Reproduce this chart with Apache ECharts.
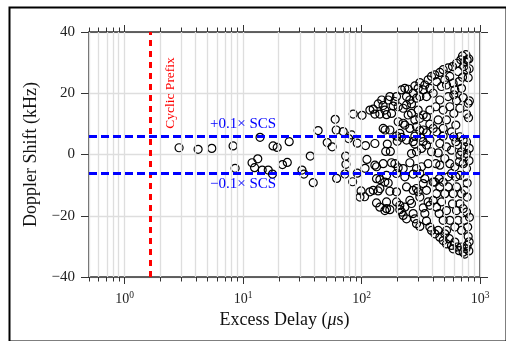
<!DOCTYPE html>
<html>
<head>
<meta charset="utf-8">
<script src="https://cdn.jsdelivr.net/npm/echarts@6/dist/echarts.min.js"></script>
<style>
    html, body { margin: 0; padding: 0; background: #fff; }
    #chart { width: 506px; height: 341px; }
</style>
</head>
<body>
<div id="chart"></div>
<script>
// delay in microseconds, doppler in kHz
var sparseDelay = [2.88, 4.17, 5.44, 8.23, 8.56, 11.9, 12.5, 13.3, 13.9, 14.5, 16.3, 17.7, 17.9, 19.4, 21.5,
    23.6, 24.5, 31.4, 32.6, 36.9, 39.1, 43.0, 51.3, 56.5, 59.9, 61.1, 61.6, 70.0, 73.4, 73.8, 72.4, 77.8,
    82.5, 84.1, 85.1, 92.0, 92.0, 101, 108, 107, 111, 99, 97, 106];
var sparseDoppler = [2.2, 1.7, 2.0, 2.8, -4.5, -2.7, -4.3, -1.4, 5.6, -5.1, -5.1, -6.4, 2.8, 2.3, -3.3,
    -2.6, 4.2, -5.1, -6.4, -0.5, -9.2, 7.8, 3.9, 2.5, 11.5, 8.0, -7.8, 7.5, -0.5, -3.2, -6.4, 5.2,
    6.4, -8.9, 13.2, 3.7, -6.1, 12.8, 2.9, -4.5, -1.6, -11.9, -13.9, -13.8];

var upperDelay = [117.6, 125.4, 138.2, 129.6, 142.8, 152, 148, 157.3, 162.5, 167.9, 173.4, 185, 191, 197.3,
    203.8, 179.1, 203.8, 152.3, 158, 173.4, 165, 160, 175, 129.6, 197.3, 200, 210.5, 217.5, 232, 247.5,
    239.7, 255.7, 239.7, 224.6, 264.1, 272.8, 281.8, 291.1, 300.6, 310.5, 310.5, 331.3, 342.2, 353.5,
    365.1, 377.2, 389.6, 402.4, 247.5, 264.1, 281.8, 300.6, 310.5, 331.3, 353.5, 377.2, 224.6, 232,
    255.7, 291.1, 310.5, 331.3, 281.8, 318, 217.5, 239.7, 272.8, 281.8, 331.3, 377.2, 353.5, 320.8,
    291.1, 264.1, 389.6, 377.2, 353.5, 402.4, 415.7, 429.3, 458.1, 473.2, 488.7, 504.8, 521.5, 538.6,
    556.4, 586, 593.6, 613.2, 633.4, 654.2, 667, 689, 698, 712, 730, 744.8, 760, 769.3, 779, 794.7,
    712, 601, 538.6, 458.1, 424, 488.7, 556.4, 601, 675.8, 794.7, 769.3, 633.4, 721, 800, 443.5,
    521.5, 625, 488.7, 429.3, 574.7, 488.7, 601, 675.8, 721, 625, 769.3, 654.2, 744.8, 521.5, 458.1,
    574.7, 698, 769.3, 443.5, 805, 810, 815, 812];
var upperDoppler = [14.5, 14.8, 16.5, 13.2, 13.2, 16.0, 17.8, 14.5, 13.0, 17.8, 18.9, 15.8, 17.3, 18.9,
    15.6, 13.4, 10.7, 8.5, 8.0, 8.0, 3.4, 1.0, 1.0, 3.6, 6.0, 4.3, 6.9, 21.1, 21.6, 21.3,
    18.9, 17.8, 16.2, 15.1, 16.5, 20.0, 22.4, 18.4, 21.6, 23.5, 18.9, 21.1, 22.7, 18.9,
    24.4, 21.6, 25.5, 20.0, 12.9, 13.4, 11.3, 14.5, 11.8, 12.9, 12.3, 14.5, 10.2, 9.6,
    8.5, 9.1, 7.8, 8.0, 6.0, 5.6, 5.6, 4.7, 4.2, 3.4, 4.2, 4.9, 3.1, 2.0,
    0.9, 0.3, 0.9, 9.9, 7.1, 8.5, 26.0, 23.8, 26.8, 22.2, 27.7, 24.4, 22.7, 28.3,
    25.5, 28.7, 23.3, 21.1, 29.8, 27.1, 23.8, 30.9, 21.6, 32.2, 28.7, 30.4, 32.6, 27.7, 30.9, 25.1,
    25.2, 19.5, 18.9, 17.8, 15.6, 14.5, 15.6, 13.4, 15.1, 16.7, 13.2, 17.6, 18.6, 12.0, 11.3,
    11.3, 9.6, 8.5, 7.4, 7.4, 6.0, 5.8, 5.8, 4.7, 4.2, 4.2, 3.1, 2.5, 2.5, 3.6,
    1.4, 0.9, 0.3, 0.5, 31.2, 28.0, 17.5, 2.0];

var lowerDelay = [117.6, 125.4, 138.2, 142.8, 133.8, 142.8, 157.3, 162.5, 162.5, 173.4, 129.6, 133.8, 133.8,
    142.8, 157.3, 167.9, 162.5, 152.3, 179.1, 191, 173.4, 197.3, 197.3, 203.8, 197.3, 210.5, 217.5,
    224.6, 210.5, 239.7, 232, 255.7, 264.1, 272.8, 281.8, 291.1, 310.5, 310.5, 300.6, 291.1, 272.8,
    331.3, 342.2, 353.5, 377.2, 389.6, 365.1, 377.2, 331.3, 342.2, 310.5, 272.8, 255.7, 224.6, 232,
    291.1, 320.8, 365.1, 402.4, 353.5, 239.7, 402.4, 415.7, 443.5, 458.1, 488.7, 504.8, 521.5, 550,
    574.7, 593.6, 613.2, 642, 667, 698, 721, 744.8, 760, 779, 794.7, 787, 744.8, 698, 654.2, 613.2,
    556.4, 521.5, 488.7, 452, 429.3, 473.2, 521.5, 586, 633.4, 675.8, 721, 769.3, 779, 744.8, 698,
    633.4, 593.6, 538.6, 504.8, 458.1, 429.3, 415.7, 452, 488.7, 538.6, 574.7, 625, 675.8, 744.8, 779,
    769.3, 721, 667, 613.2, 556.4, 504.8, 458.1, 424, 744.8, 675.8, 808, 815, 805, 810];
var lowerDoppler = [-12.2, -11.7, -11.9, -11.1, -15.8, -17.2, -18.3, -17.7, -15.5, -18.0, -3.5, -4.0, -7.9,
    -8.2, -9.0, -9.3, -6.8, -3.0, -2.7, -3.0, -12.0, -12.2, -6.2, -4.3, -15.5, -16.6, -18.8,
    -19.9, -18.0, -21.0, -17.2, -15.0, -16.0, -19.3, -21.0, -22.6, -23.5, -13.9, -12.2, -11.1, -11.7,
    -17.4, -19.3, -21.7, -23.7, -24.8, -15.5, -16.6, -9.5, -7.9, -6.2, -6.4, -2.7, -4.6, -7.3,
    -4.6, -4.0, -3.0, -9.0, -11.7, -10.6, -15.0, -25.9, -24.8, -27.0, -28.1, -25.9, -29.2, -27.5,
    -29.7, -30.8, -28.6, -30.2, -31.4, -30.2, -31.9, -32.5, -30.8, -29.7, -26.8, -23.7, -21.5, -24.8, -21.5, -23.7,
    -21.5, -24.8, -21.5, -19.3, -17.2, -15.5, -18.3, -16.1, -18.3, -16.1, -17.7, -18.8, -13.9, -11.7, -12.8,
    -10.6, -12.8, -10.6, -12.8, -10.6, -12.8, -9.0, -7.9, -9.0, -7.3, -6.2, -7.3, -6.8, -7.3, -9.3,
    -4.6, -3.0, -2.4, -4.0, -3.0, -1.3, -3.5, -3.0, -0.8, -0.2, -2.0, -20.5, -31.5, -28.5];

var majorTicks = [1, 10, 100, 1000];
var minorTicks = [0.5, 0.6, 0.7, 0.8, 0.9, 2, 3, 4, 5, 6, 7, 8, 9, 20, 30, 40, 50, 60, 70, 80, 90,
    200, 300, 400, 500, 600, 700, 800, 900];
var cyclicPrefix = 1.66;
var scsLimit = 6;

var font = 'Liberation Serif';
var axisColor = '#333';
var gridColor = '#dedede';
var xMin = Math.log10(0.5);
var xMax = 3;

function lg(v) { return Math.log10(v); }

function toPoints(delays, dopplers) {
    return delays.map(function (d, i) { return [lg(d), dopplers[i]]; });
}
var points = toPoints(sparseDelay, sparseDoppler)
    .concat(toPoints(upperDelay, upperDoppler))
    .concat(toPoints(lowerDelay, lowerDoppler));

function xAxis(position, ticks, len, withLine) {
    return {
        type: 'value', position: position, min: xMin, max: xMax,
        axisLine: { show: withLine, onZero: false, lineStyle: { color: axisColor, width: 1.5 } },
        axisTick: { show: true, customValues: ticks.map(lg), length: len, lineStyle: { color: axisColor, width: 1 } },
        axisLabel: { show: false },
        splitLine: { show: false }
    };
}

var bottomMajor = xAxis('bottom', majorTicks, 7, true);
bottomMajor.axisLabel = {
    show: true, customValues: majorTicks.map(lg), margin: 13,
    formatter: function (v) { return '{b|10}{s|' + Math.round(v) + '}'; },
    rich: {
        b: { fontFamily: font, fontSize: 14, color: '#222', lineHeight: 18, verticalAlign: 'middle' },
        s: { fontFamily: font, fontSize: 9.5, color: '#222', lineHeight: 10, verticalAlign: 'top' }
    }
};
bottomMajor.name = 'Excess Delay ({i|μ}s)';
bottomMajor.nameLocation = 'middle';
bottomMajor.nameGap = 26;
bottomMajor.nameTextStyle = {
    fontFamily: font, fontSize: 18, color: '#111',
    rich: { i: { fontFamily: font, fontSize: 18, fontStyle: 'italic', color: '#111' } }
};

function yAxis(position, withLabel) {
    return {
        type: 'value', position: position, min: -40, max: 40, interval: 20,
        axisLine: { show: true, onZero: false, lineStyle: { color: axisColor, width: 1.5 } },
        axisTick: { show: true, length: 8, lineStyle: { color: axisColor, width: 1 } },
        axisLabel: {
            show: withLabel, margin: 14, fontFamily: font, fontSize: 15, color: '#222',
            formatter: function (v) { return v < 0 ? '\u2212' + (-v) : String(v); }
        },
        splitLine: { show: withLabel, lineStyle: { color: gridColor, width: 1.3 } }
    };
}
var leftAxis = yAxis('left', true);
leftAxis.name = 'Doppler Shift (kHz)';
leftAxis.nameLocation = 'middle';
leftAxis.nameGap = 47;
leftAxis.nameTextStyle = { fontFamily: font, fontSize: 18, color: '#111' };

function textMark(x, y, text, color, size, rotate) {
    return {
        value: [x, y],
        label: {
            show: true, position: 'inside', formatter: text, rotate: rotate || 0, opacity: 1,
            fontFamily: font, fontSize: size, color: color, textBorderWidth: 0
        }
    };
}

var chart = echarts.init(document.getElementById('chart'), null, { renderer: 'canvas' });
chart.setOption({
    animation: false,
    backgroundColor: '#fff',
    grid: { left: 89, right: 26, top: 32, bottom: 64, containLabel: false },
    xAxis: [
        bottomMajor,
        xAxis('bottom', minorTicks, 4.5, false),
        xAxis('top', majorTicks, 7, true),
        xAxis('top', minorTicks, 4.5, false)
    ],
    yAxis: [leftAxis, yAxis('right', false)],
    graphic: [{
        type: 'rect', left: 7, top: 5, z: 100,
        shape: { width: 497, height: 334 },
        style: { fill: null, stroke: '#000', lineWidth: 2 }
    }],
    series: [
        {
            // log grid lines
            type: 'line', data: [], z: 1, silent: true,
            markLine: {
                symbol: ['none', 'none'], silent: true, animation: false,
                label: { show: false },
                lineStyle: { color: gridColor, width: 1.3, type: 'solid' },
                data: minorTicks.concat(majorTicks).map(function (v) { return { xAxis: lg(v) }; })
            }
        },
        {
            type: 'scatter', data: points, z: 3,
            symbol: 'circle', symbolSize: 8,
            itemStyle: { color: 'rgba(0,0,0,0)', borderColor: '#000', borderWidth: 1.2, opacity: 1 }
        },
        {
            type: 'line', data: [], z: 5, silent: true,
            markLine: {
                symbol: ['none', 'none'], silent: true, animation: false,
                label: { show: false },
                data: [
                    { xAxis: lg(cyclicPrefix), lineStyle: { color: '#ff0000', width: 3, type: [6, 5], opacity: 1 } },
                    { yAxis: scsLimit, lineStyle: { color: '#0000ff', width: 3, type: [8, 4], opacity: 1 } },
                    { yAxis: -scsLimit, lineStyle: { color: '#0000ff', width: 3, type: [8, 4], opacity: 1 } }
                ]
            }
        },
        {
            type: 'scatter', z: 6, silent: true, symbolSize: 1,
            itemStyle: { color: 'rgba(0,0,0,0)', opacity: 1 },
            data: [
                textMark(lg(2.45), 20.1, 'Cyclic Prefix', '#ff0000', 13.5, 90),
                textMark(1, 10, '+0.1\u00d7 SCS', '#0000ff', 15),
                textMark(1, -9.7, '\u22120.1\u00d7 SCS', '#0000ff', 15)
            ]
        }
    ]
});
</script>
</body>
</html>
